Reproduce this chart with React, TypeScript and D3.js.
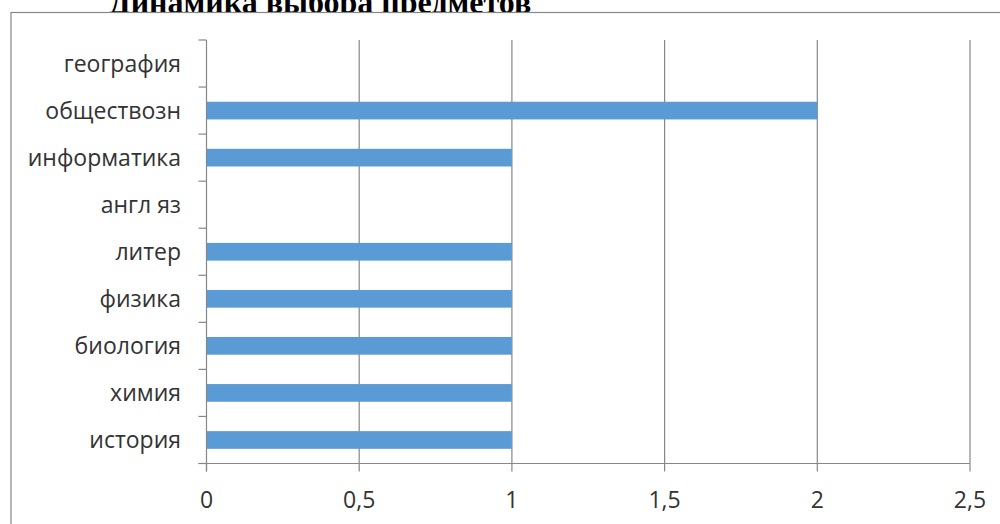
import React from "react";
import * as d3 from "d3";

const title = "Динамика выбора предметов";
const categories = ["история", "химия", "биология", "физика", "литер", "англ яз", "информатика", "обществозн", "география"];
const values = [1, 1, 1, 1, 1, 0, 1, 2, 0];
const xTicks = [0, 0.5, 1, 1.5, 2, 2.5];
const fmt = (v: number) => String(v).replace(".", ",");

export default function App() {
  const W = 1000, H = 524;
  const left = 206.5, right = 970, top = 40, bottom = 463.5;
  const x = d3.scaleLinear().domain([0, 2.5]).range([left, right]);
  const y = d3.scaleBand<string>().domain(categories.slice().reverse()).range([top, bottom]).padding(0);
  const bw = y.bandwidth();
  const barH = bw * 0.376;
  const boundaries = d3.range(categories.length + 1).map((i) => top + i * bw);
  const grid = "#878787";
  const labelFont = "'Open Sans', sans-serif";
  return (
    <svg width={W} height={H} style={{ position: "absolute", left: 0, top: 0, background: "#fff" }}>
      <text x={320} y={13} textAnchor="middle" fontFamily="'Liberation Serif', 'Times New Roman', serif" fontWeight="bold" fontSize={32} fill="#000">
        {title}
      </text>
      <rect x={11} y={12.5} width={1100} height={600} fill="#fff" stroke={grid} strokeWidth={1.2} />
      {xTicks.slice(1).map((t) => (
        <line key={"g" + t} x1={x(t)} x2={x(t)} y1={top} y2={bottom} stroke={grid} strokeWidth={1.2} />
      ))}
      {categories.map((c, i) => (
        <rect key={c} x={x(0)} y={(y(c) as number) + bw / 2 - barH / 2} width={x(values[i]) - x(0)} height={barH} fill="#5B9BD5" />
      ))}
      <line x1={left} x2={left} y1={top} y2={bottom + 8} stroke={grid} strokeWidth={1.2} />
      <line x1={left - 8} x2={right} y1={bottom} y2={bottom} stroke={grid} strokeWidth={1.2} />
      {boundaries.map((b, i) => (
        <line key={"lt" + i} x1={left - 8} x2={left} y1={b} y2={b} stroke={grid} strokeWidth={1.2} />
      ))}
      {xTicks.map((t) => (
        <line key={"bt" + t} x1={x(t)} x2={x(t)} y1={bottom} y2={bottom + 8} stroke={grid} strokeWidth={1.2} />
      ))}
      {categories.map((c) => (
        <text key={"l" + c} x={181} y={(y(c) as number) + bw / 2} dy="0.35em" textAnchor="end" fontFamily={labelFont} fontSize={23} fill="#333">
          {c}
        </text>
      ))}
      {xTicks.map((t) => (
        <text key={"xl" + t} x={x(t)} y={500} dy="0.35em" textAnchor="middle" fontFamily={labelFont} fontSize={23} fill="#333">
          {fmt(t)}
        </text>
      ))}
    </svg>
  );
}
